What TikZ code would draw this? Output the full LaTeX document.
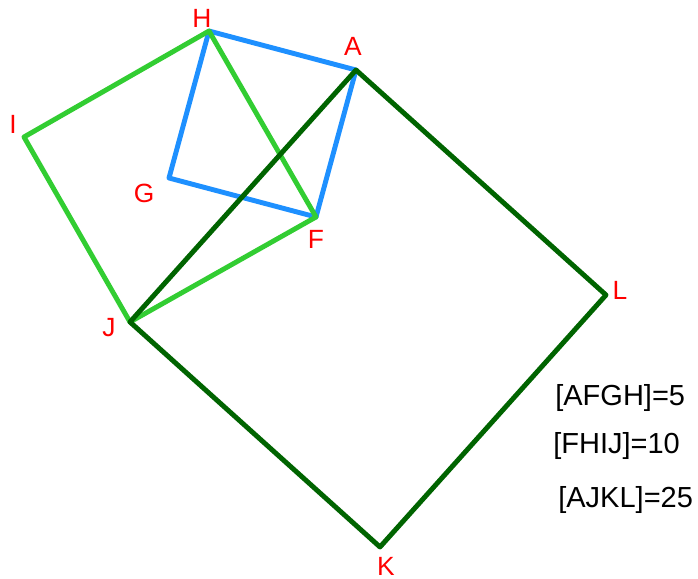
\documentclass[tikz,border=0pt]{standalone}
\usepackage{fontspec}
\setmainfont{Liberation Sans}
\usetikzlibrary{positioning}
\definecolor{sqblue}{RGB}{30,144,255}
\definecolor{sqlime}{RGB}{50,205,50}
\definecolor{sqdark}{RGB}{0,100,0}
\definecolor{lblred}{RGB}{255,0,0}
\begin{document}
\begin{tikzpicture}[x=0.02cm, y=-0.02cm, line join=round,
  side/.style={line width=2.8pt},
  vlabel/.style={text=lblred, font=\fontsize{15}{17}\selectfont, inner sep=0pt},
  area/.style={font=\fontsize{16.5}{19}\selectfont, inner sep=0pt, anchor=base west}]
\useasboundingbox (0,0) rectangle (698,579);
% ---- vertices
\coordinate (A) at (356,70);
\coordinate (F) at (316,217);
\coordinate (G) at (169,178);
\coordinate (H) at (209,31);
\coordinate (I) at (24,137);
\coordinate (J) at (130,322);
\coordinate (K) at (380,547);
\coordinate (L) at (606,295);
% ---- squares
\draw[side, sqblue] (A) -- (F) -- (G) -- (H) -- cycle;   % AFGH
\draw[side, sqlime] (F) -- (H) -- (I) -- (J) -- cycle;   % FHIJ
\draw[side, sqdark] (A) -- (J) -- (K) -- (L) -- cycle;   % AJKL
% ---- labels
\node[vlabel] (lH) at (202,18) {H};
\node[vlabel] (lA) at (353,46) {A};
\node[vlabel] (lI) at (13,124) {I};
\node[vlabel] (lG) at (144,193) {G};
\node[vlabel] (lF) at (316,239) {F};
\node[vlabel] (lJ) at (109,328) {J};
\node[vlabel] (lK) at (386,566) {K};
\node[vlabel] (lL) at (620,290) {L};
% ---- areas
\node[area] (s1) at (555,405) {[AFGH]=5};
\node[area] (s2) at (553,453) {[FHIJ]=10};
\node[area] (s3) at (558,507) {[AJKL]=25};
\end{tikzpicture}
\end{document}
